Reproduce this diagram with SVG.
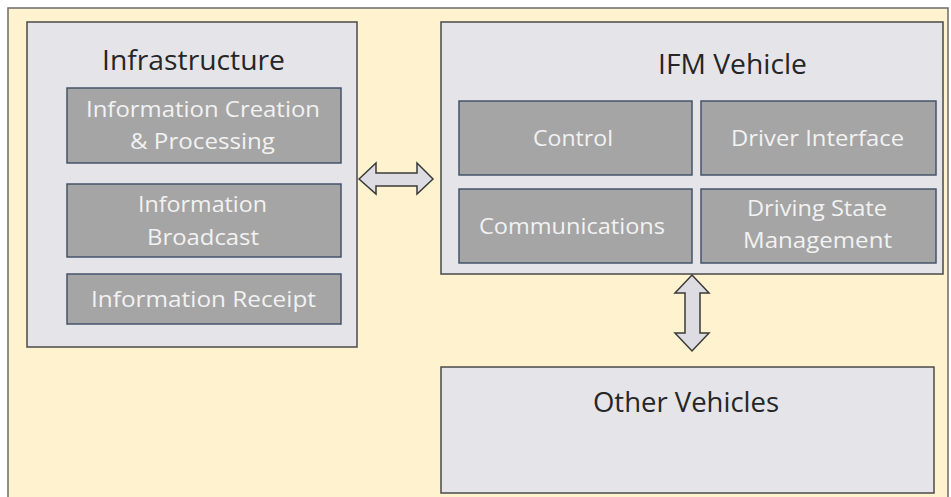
<svg xmlns="http://www.w3.org/2000/svg" width="951" height="497" viewBox="0 0 951 497">
<style>
.frame{fill:#fff2cf;stroke:#6b6b6b;stroke-width:1.5}
.cont{fill:#e5e5e9;stroke:#4a4a4a;stroke-width:1.5}
.sub{fill:#a5a5a5;stroke:#44546a;stroke-width:1.5}
.title{font-family:"Open Sans","Noto Sans",sans-serif;font-size:27px;fill:#262626;text-anchor:middle}
.lbl{font-family:"Open Sans","Noto Sans",sans-serif;font-size:22px;fill:#f2f2f2;text-anchor:middle}
.arr{fill:#dcdce2;stroke:#3a3a3a;stroke-width:1.5;stroke-linejoin:miter}
</style>
<rect x="0" y="0" width="951" height="497" fill="#ffffff"/>
<rect class="frame" x="8" y="8" width="940" height="500"/>
<g id="infrastructure">
<rect class="cont" x="27" y="22" width="330" height="325"/>
<text class="title" x="193.5" y="70" textLength="183" lengthAdjust="spacingAndGlyphs">Infrastructure</text>
</g>
<g id="info-creation">
<rect class="sub" x="67" y="88" width="274" height="75"/>
<text class="lbl" x="203" y="117" textLength="234" lengthAdjust="spacingAndGlyphs">Information  Creation</text>
<text class="lbl" x="202.5" y="149" textLength="145" lengthAdjust="spacingAndGlyphs">&amp; Processing</text>
</g>
<g id="info-broadcast">
<rect class="sub" x="67" y="184" width="274" height="73"/>
<text class="lbl" x="202.5" y="212" textLength="129" lengthAdjust="spacingAndGlyphs">Information</text>
<text class="lbl" x="203" y="245" textLength="112" lengthAdjust="spacingAndGlyphs">Broadcast</text>
</g>
<g id="info-receipt">
<rect class="sub" x="67" y="274" width="274" height="50"/>
<text class="lbl" x="203.5" y="307" textLength="225" lengthAdjust="spacingAndGlyphs">Information  Receipt</text>
</g>
<g id="ifm-vehicle">
<rect class="cont" x="441" y="22" width="502" height="252"/>
<text class="title" x="732.5" y="74" textLength="149" lengthAdjust="spacingAndGlyphs">IFM Vehicle</text>
</g>
<g id="control">
<rect class="sub" x="459" y="101" width="233" height="74"/>
<text class="lbl" x="573" y="146" textLength="80" lengthAdjust="spacingAndGlyphs">Control</text>
</g>
<g id="driver-interface">
<rect class="sub" x="701" y="101" width="235" height="74"/>
<text class="lbl" x="817.5" y="146" textLength="173" lengthAdjust="spacingAndGlyphs">Driver Interface</text>
</g>
<g id="communications">
<rect class="sub" x="459" y="189" width="233" height="74"/>
<text class="lbl" x="572" y="234" textLength="186" lengthAdjust="spacingAndGlyphs">Communications</text>
</g>
<g id="driving-state">
<rect class="sub" x="701" y="189" width="235" height="74"/>
<text class="lbl" x="817" y="216" textLength="140" lengthAdjust="spacingAndGlyphs">Driving State</text>
<text class="lbl" x="817.5" y="248" textLength="149" lengthAdjust="spacingAndGlyphs">Management</text>
</g>
<g id="other-vehicles">
<rect class="cont" x="441" y="367" width="493" height="126"/>
<text class="title" x="686" y="412" textLength="186" lengthAdjust="spacingAndGlyphs">Other Vehicles</text>
</g>
<g id="connectors">
<path class="arr" d="M359,179 L376,163 L376,173 L417,173 L417,163 L433,179 L417,194 L417,186 L376,186 L376,194 Z"/>
<path class="arr" d="M692,275 L709,293 L700,293 L700,333 L709,333 L692,351 L675,333 L685,333 L685,293 L675,293 Z"/>
</g>
</svg>
